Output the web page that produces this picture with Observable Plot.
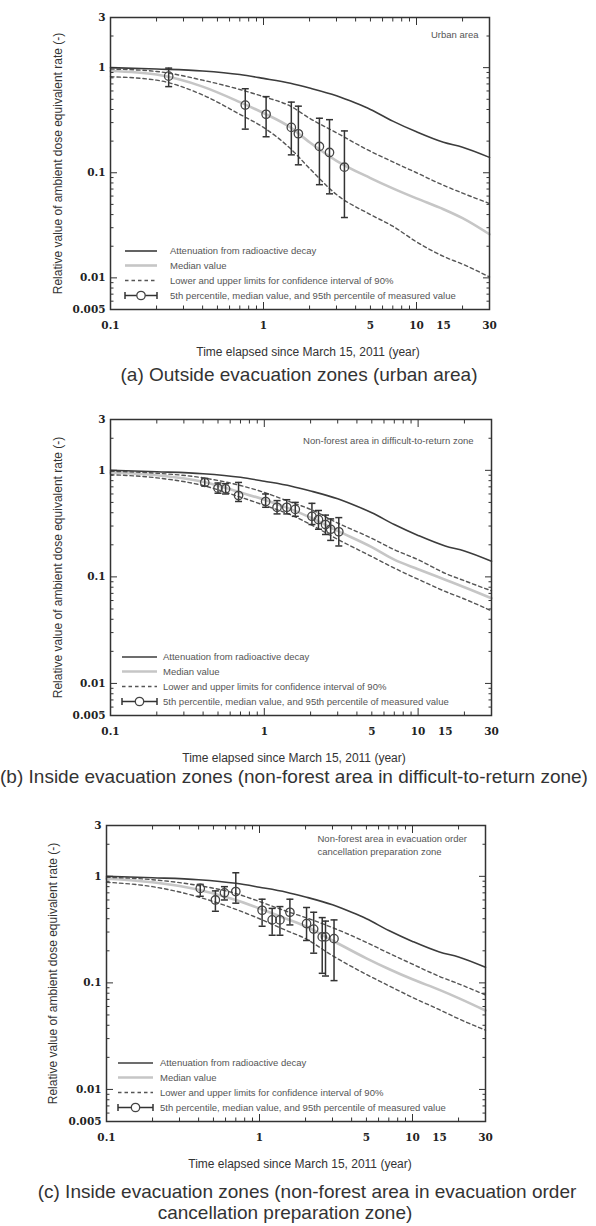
<!DOCTYPE html>
<html><head><meta charset="utf-8">
<script src="https://cdn.jsdelivr.net/npm/d3@7"></script>
<script src="https://cdn.jsdelivr.net/npm/@observablehq/plot@0.6"></script>
<style>
body{margin:0;background:#fff;}
#root{position:relative;width:596px;height:1226px;overflow:hidden;font-family:"Liberation Sans",Arial,sans-serif;}
.panel{position:absolute;left:0;}
.cap{position:absolute;white-space:nowrap;transform:translateX(-50%);font-size:19px;color:#333;line-height:22px;font-family:"Liberation Sans",Arial,sans-serif;}
</style></head><body><div id="root"></div>
<script>
// ---------- shared ----------
const xTickLabels = [0.1, 1, 5, 10, 15, 30];
const yTickLabels = [0.005, 0.01, 0.1, 1, 3];
const xMinorTicks = [0.2,0.3,0.4,0.5,0.6,0.7,0.8,0.9,2,3,4,5,6,7,8,9,20,30];
const xMajorTicks = [1, 10];
const yMinorTicks = [0.006,0.007,0.008,0.009,0.02,0.03,0.04,0.05,0.06,0.07,0.08,0.09,0.2,0.3,0.4,0.5,0.6,0.7,0.8,0.9,2];
const yMajorTicks = [0.01, 0.1, 1];
const xTitle = "Time elapsed since March 15, 2011 (year)";
const yTitle = "Relative value of ambient dose equivalent rate (-)";
const legendLabels = [
  "Attenuation from radioactive decay",
  "Median value",
  "Lower and upper limits for confidence interval of 90%",
  "5th percentile, median value, and 95th percentile of measured value"
];

// attenuation from radioactive decay
const decayT = [0.1, 0.2, 0.4, 0.7, 1, 1.5, 2, 3, 4, 5, 7, 10, 15, 20, 30];
const decayV = [1.0, 0.97, 0.93, 0.86, 0.79, 0.71, 0.64, 0.54, 0.46, 0.40, 0.31, 0.245, 0.195, 0.175, 0.14];

// time grid of model curves
const gridT = [0.1, 0.2, 0.4, 0.7, 1, 1.5, 2, 3, 5, 7, 10, 15, 20, 30];

// ---------- (a) urban area ----------
const aMedian = [0.93, 0.86, 0.66, 0.47, 0.37, 0.27, 0.195, 0.13, 0.089, 0.071, 0.057, 0.045, 0.037, 0.026];
const aUpper  = [0.97, 0.92, 0.76, 0.62, 0.53, 0.43, 0.33, 0.24, 0.16, 0.127, 0.10, 0.076, 0.064, 0.051];
const aLower  = [0.82, 0.76, 0.55, 0.36, 0.27, 0.17, 0.11, 0.062, 0.040, 0.031, 0.022, 0.016, 0.0135, 0.0102];
const aPtT  = [0.24, 0.76, 1.04, 1.52, 1.69, 2.32, 2.70, 3.38];
const aPtV  = [0.83, 0.44, 0.36, 0.27, 0.235, 0.178, 0.156, 0.113];
const aPtLo = [0.66, 0.26, 0.22, 0.148, 0.119, 0.077, 0.063, 0.0375];
const aPtHi = [0.99, 0.63, 0.53, 0.47, 0.43, 0.33, 0.32, 0.25];

// ---------- (b) difficult-to-return zone ----------
const bMedian = [0.95, 0.90, 0.78, 0.62, 0.53, 0.43, 0.36, 0.27, 0.19, 0.145, 0.118, 0.094, 0.08, 0.063];
const bUpper  = [0.98, 0.94, 0.85, 0.72, 0.62, 0.50, 0.43, 0.32, 0.23, 0.18, 0.145, 0.108, 0.092, 0.074];
const bLower  = [0.91, 0.85, 0.72, 0.56, 0.47, 0.38, 0.31, 0.225, 0.155, 0.121, 0.095, 0.073, 0.062, 0.048];
const bPtT  = [0.41, 0.50, 0.56, 0.68, 1.02, 1.21, 1.40, 1.59, 2.04, 2.25, 2.50, 2.70, 3.05];
const bPtV  = [0.77, 0.68, 0.67, 0.58, 0.51, 0.45, 0.45, 0.43, 0.37, 0.345, 0.31, 0.28, 0.265];
const bPtLo = [0.71, 0.61, 0.60, 0.51, 0.45, 0.39, 0.39, 0.37, 0.31, 0.28, 0.25, 0.22, 0.195];
const bPtHi = [0.84, 0.76, 0.75, 0.77, 0.60, 0.52, 0.53, 0.50, 0.49, 0.42, 0.38, 0.35, 0.36];

// ---------- (c) evacuation order cancellation preparation zone ----------
const cMedian = [0.95, 0.88, 0.75, 0.60, 0.50, 0.40, 0.34, 0.25, 0.17, 0.135, 0.108, 0.086, 0.072, 0.055];
const cUpper  = [0.98, 0.93, 0.82, 0.69, 0.58, 0.47, 0.41, 0.33, 0.24, 0.19, 0.15, 0.115, 0.098, 0.077];
const cLower  = [0.88, 0.80, 0.64, 0.49, 0.40, 0.31, 0.26, 0.18, 0.12, 0.094, 0.073, 0.056, 0.046, 0.036];
const cPtT  = [0.41, 0.515, 0.59, 0.70, 1.04, 1.21, 1.36, 1.58, 2.03, 2.26, 2.57, 2.70, 3.07];
const cPtV  = [0.77, 0.60, 0.70, 0.72, 0.48, 0.39, 0.39, 0.46, 0.36, 0.32, 0.27, 0.27, 0.26];
const cPtLo = [0.65, 0.47, 0.60, 0.56, 0.34, 0.28, 0.28, 0.35, 0.25, 0.19, 0.123, 0.116, 0.105];
const cPtHi = [0.84, 0.73, 0.80, 1.08, 0.61, 0.50, 0.52, 0.61, 0.51, 0.46, 0.41, 0.38, 0.39];

const panels = [
  {top: 0, mt: 17, ml: 110, mr: 107, med: aMedian, up: aUpper, lo: aLower,
   pt: [aPtT, aPtV, aPtLo, aPtHi], note: "Urban area", noteAnchor: "top-right", noteDx: -11, noteDy: 17,
   xTitleDx: 8, yTitleDx: -52, legLine: [15, 47], legText: 60,
   caps: [{text: "(a) Outside evacuation zones (urban area)", x: 299, y: 364}]},
  {top: 400, mt: 19, ml: 110, mr: 105, med: bMedian, up: bUpper, lo: bLower,
   pt: [bPtT, bPtV, bPtLo, bPtHi], note: "Non-forest area in difficult-to-return zone", noteAnchor: "top-right", noteDx: -18, noteDy: 21,
   xTitleDx: -7, yTitleDx: -52, legLine: [12, 47], legText: 53,
   caps: [{text: "(b) Inside evacuation zones (non-forest area in difficult-to-return zone)", x: 294, y: 766}]},
  {top: 800, mt: 25, ml: 106, mr: 111, med: cMedian, up: cUpper, lo: cLower,
   pt: [cPtT, cPtV, cPtLo, cPtHi], note: "Non-forest area in evacuation order\ncancellation preparation zone", noteAnchor: "top-left", noteDx: 211, noteDy: 19,
   xTitleDx: 4, yTitleDx: -53, legLine: [12, 47], legText: 54,
   caps: [{text: "(c) Inside evacuation zones (non-forest area in evacuation order", x: 307, y: 1181},
          {text: "cancellation preparation zone)", x: 285, y: 1202}]}
];

const capSymbol = {draw(ctx, size) { const r = Math.sqrt(size / Math.PI); ctx.moveTo(-r, 0); ctx.lineTo(r, 0); }};
const tickFont = {fontFamily: "DejaVu Serif", fontWeight: "bold", fontSize: 10.5, fill: "#222"};
const root = document.getElementById("root");

panels.forEach((p, pi) => {
  const ih = pi === 0 ? 292 : 296;
  const H = p.mt + ih + 50;
  const curve = vals => gridT.map((t, i) => ({t, v: vals[i]}));
  const decay = decayT.map((t, i) => ({t, v: decayV[i]}));
  const pts = p.pt[0].map((t, i) => ({t, v: p.pt[1][i], lo: p.pt[2][i], hi: p.pt[3][i]}));
  const lineOpts = {x: "t", y: "v", curve: "monotone-x"};
  const dashed = {...lineOpts, stroke: "#555", strokeWidth: 1.4, strokeDasharray: "3.5,3"};
  const plot = Plot.plot({
    width: 596, height: H,
    marginTop: p.mt, marginLeft: p.ml, marginRight: p.mr, marginBottom: 50,
    x: {type: "log", domain: [0.1, 30]},
    y: {type: "log", domain: [0.005, 3]},
    style: {background: "transparent", color: "#333", fontFamily: "Liberation Sans, Arial, sans-serif"},
    marks: [
      Plot.line(curve(p.med), {...lineOpts, stroke: "#c6c6c6", strokeWidth: 2.6}),
      Plot.line(curve(p.up), dashed),
      Plot.line(curve(p.lo), dashed),
      Plot.line(decay, {...lineOpts, stroke: "#3c3c3c", strokeWidth: 1.6}),
      Plot.ruleX(pts, {x: "t", y1: "lo", y2: "hi", stroke: "#333", strokeWidth: 1.5}),
      Plot.dot(pts, {x: "t", y: "lo", symbol: capSymbol, r: 3.5, fill: "none", stroke: "#333", strokeWidth: 1.5}),
      Plot.dot(pts, {x: "t", y: "hi", symbol: capSymbol, r: 3.5, fill: "none", stroke: "#333", strokeWidth: 1.5}),
      Plot.dot(pts, {x: "t", y: "v", r: 4.2, fill: "none", stroke: "#444", strokeWidth: 1.3}),
      // inward ticks
      Plot.axisX({ticks: xMinorTicks, anchor: "bottom", tickSize: 3.5, dy: -3.5, fill: "none", label: null, stroke: "#333"}),
      Plot.axisX({ticks: xMinorTicks, anchor: "top", tickSize: 3.5, dy: 3.5, fill: "none", label: null, stroke: "#333"}),
      Plot.axisX({ticks: xMajorTicks, anchor: "bottom", tickSize: 7, dy: -7, fill: "none", label: null, stroke: "#333"}),
      Plot.axisX({ticks: xMajorTicks, anchor: "top", tickSize: 7, dy: 7, fill: "none", label: null, stroke: "#333"}),
      Plot.axisY({ticks: yMinorTicks, anchor: "left", tickSize: 3.5, dx: 3.5, fill: "none", label: null, stroke: "#333"}),
      Plot.axisY({ticks: yMinorTicks, anchor: "right", tickSize: 3.5, dx: -3.5, fill: "none", label: null, stroke: "#333"}),
      Plot.axisY({ticks: yMajorTicks, anchor: "left", tickSize: 7, dx: 7, fill: "none", label: null, stroke: "#333"}),
      Plot.axisY({ticks: yMajorTicks, anchor: "right", tickSize: 7, dx: -7, fill: "none", label: null, stroke: "#333"}),
      Plot.frame({stroke: "#333", strokeWidth: 1.5}),
      // tick labels
      Plot.text(xTickLabels, {x: d => d, frameAnchor: "bottom", textAnchor: "middle", lineAnchor: "middle", dy: 16, text: d => String(d), ...tickFont}),
      Plot.text(yTickLabels, {y: d => d, frameAnchor: "left", textAnchor: "end", lineAnchor: "middle", dx: -5, text: d => String(d), ...tickFont}),
      Plot.text([xTitle], {text: d => d, frameAnchor: "bottom", textAnchor: "middle", lineAnchor: "middle", dy: 42.5, dx: p.xTitleDx, fontSize: 12, fill: "#333"}),
      Plot.text([yTitle], {text: d => d, frameAnchor: "left", textAnchor: "middle", rotate: -90, lineAnchor: "middle", dx: p.yTitleDx, fontSize: 12, fill: "#333"}),
      Plot.text([p.note], {text: d => d, frameAnchor: p.noteAnchor, textAnchor: p.noteAnchor === "top-right" ? "end" : "start",
        lineAnchor: "middle", lineHeight: 1.3, dx: p.noteDx, dy: p.noteDy, fontSize: 9.5, fill: "#555"})
    ]
  });

  // legend, placed relative to the plot frame
  const sx = plot.scale("x"), sy = plot.scale("y");
  const left = Math.min(...sx.range), bottom = Math.max(...sy.range);
  const svg = d3.select(plot);
  const g = svg.append("g").attr("text-anchor", "start");
  const rows = [58, 43.5, 28.5, 13.5];
  const x0 = left + p.legLine[0], x1 = left + p.legLine[1];
  rows.forEach((off, i) => {
    const y = bottom - off;
    if (i === 0) g.append("line").attr("x1", x0).attr("x2", x1).attr("y1", y).attr("y2", y).attr("stroke", "#3c3c3c").attr("stroke-width", 1.6);
    if (i === 1) g.append("line").attr("x1", x0).attr("x2", x1).attr("y1", y).attr("y2", y).attr("stroke", "#c6c6c6").attr("stroke-width", 2.6);
    if (i === 2) g.append("line").attr("x1", x0).attr("x2", x1).attr("y1", y).attr("y2", y).attr("stroke", "#555").attr("stroke-width", 1.4).attr("stroke-dasharray", "3.5,3");
    if (i === 3) {
      g.append("line").attr("x1", x0).attr("x2", x1).attr("y1", y).attr("y2", y).attr("stroke", "#333").attr("stroke-width", 1.5);
      [x0, x1].forEach(xx => g.append("line").attr("x1", xx).attr("x2", xx).attr("y1", y - 3.5).attr("y2", y + 3.5).attr("stroke", "#333").attr("stroke-width", 1.5));
      g.append("circle").attr("cx", (x0 + x1) / 2).attr("cy", y).attr("r", 4.2).attr("fill", "#fff").attr("stroke", "#444").attr("stroke-width", 1.3);
    }
    g.append("text").attr("x", left + p.legText).attr("y", y).attr("dy", "0.35em")
      .attr("text-anchor", "start")
      .attr("font-size", 9.5).attr("fill", "#555").attr("font-family", "Liberation Sans, Arial, sans-serif")
      .text(legendLabels[i]);
  });

  const wrap = document.createElement("div");
  wrap.className = "panel";
  wrap.style.top = p.top + "px";
  wrap.appendChild(plot);
  root.appendChild(wrap);

  p.caps.forEach(c => {
    const d = document.createElement("div");
    d.className = "cap";
    d.style.left = c.x + "px";
    d.style.top = c.y + "px";
    d.textContent = c.text;
    root.appendChild(d);
  });
});
</script>
</body></html>
